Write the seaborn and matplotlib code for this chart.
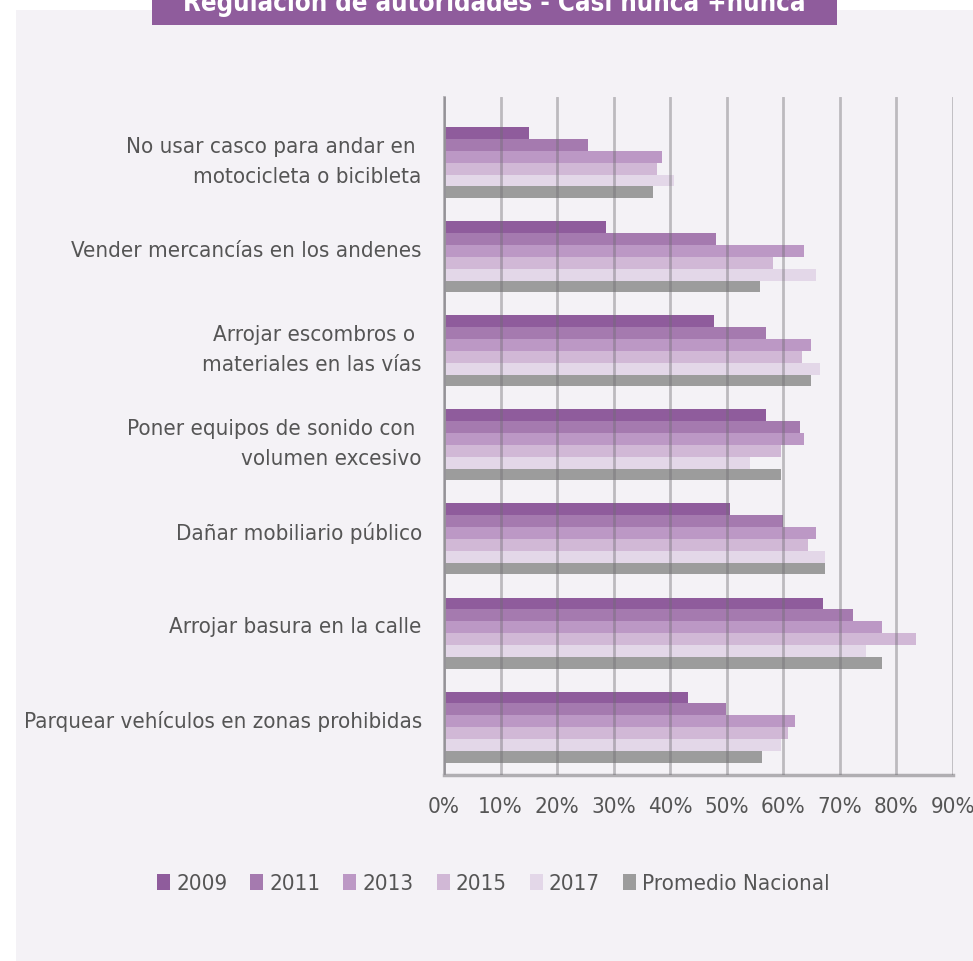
import pandas as pd
import matplotlib
matplotlib.use("Agg")
import matplotlib.pyplot as plt
import matplotlib.transforms as mtransforms
from matplotlib.patches import Rectangle, Patch
from matplotlib import font_manager
import seaborn as sns

# data (% "casi nunca + nunca")
categorias = [
    "No usar casco para andar en \nmotocicleta o bicibleta",
    "Vender mercancías en los andenes",
    "Arrojar escombros o \nmateriales en las vías",
    "Poner equipos de sonido con \nvolumen excesivo",
    "Dañar mobiliario público",
    "Arrojar basura en la calle",
    "Parquear vehículos en zonas prohibidas",
]
series = ["2009", "2011", "2013", "2015", "2017", "Promedio Nacional"]
v2009 = [15.1, 28.6, 47.8, 56.9, 50.6, 67.0, 43.2]
v2011 = [25.5, 48.1, 56.9, 62.9, 59.9, 72.4, 49.9]
v2013 = [38.6, 63.6, 64.9, 63.6, 65.7, 77.5, 62.0]
v2015 = [37.6, 58.1, 63.3, 59.5, 64.4, 83.5, 60.8]
v2017 = [40.7, 65.7, 66.5, 54.1, 67.3, 74.6, 59.5]
promedio = [36.9, 55.8, 64.9, 59.5, 67.3, 77.5, 56.3]
x_ticks = [0, 10, 20, 30, 40, 50, 60, 70, 80, 90]

colores = ["#8f5c9c", "#a57aaf", "#bc98c5", "#d1b8d6", "#e3d7e8", "#9c9c9c"]

rows = []
for serie, vals in zip(series, [v2009, v2011, v2013, v2015, v2017, promedio]):
    for cat, v in zip(categorias, vals):
        rows.append({"Categoria": cat, "Serie": serie, "Valor": v})
df = pd.DataFrame(rows)

# pick a narrow font if there is one
nombres = {f.name for f in font_manager.fontManager.ttflist}
fuente = "Liberation Sans Narrow" if "Liberation Sans Narrow" in nombres else "DejaVu Sans"
estirar = "normal" if fuente == "Liberation Sans Narrow" else "condensed"

sns.set_style("white")
plt.rcParams["font.family"] = [fuente, "DejaVu Sans"]
plt.rcParams["font.stretch"] = estirar

texto = "#555555"
fondo = "#f4f2f6"
W, H = 973, 961
fs = 16

fig = plt.figure(figsize=(9.73, 9.61), dpi=100, facecolor="white")
fig.patches.append(Rectangle((16 / W, 0), 1 - 16 / W, 1 - 10 / H, transform=fig.transFigure,
                             facecolor=fondo, edgecolor="none", zorder=-2))
fig.patches.append(Rectangle((152 / W, 1 - 25 / H), (837 - 152) / W, 25 / H,
                             transform=fig.transFigure, facecolor="#8f5c9c",
                             edgecolor="none", zorder=-1))
fig.text(494 / W, 1 - 11 / H, "Regulación de autoridades - Casi nunca +nunca",
         ha="center", va="baseline", color="white", fontsize=18.5, fontweight="bold")

ax = fig.add_axes([444 / W, 1 - 775 / H, (953 - 444) / W, (775 - 97) / H])
ax.set_facecolor(fondo)

sns.barplot(data=df, y="Categoria", x="Valor", hue="Serie", hue_order=series,
            palette=colores, orient="h", width=0.755, saturation=1,
            errorbar=None, linewidth=0, ax=ax, legend=False)

ax.set_xlim(0, 90)
ax.set_ylim(6.51, -0.70)
ax.set_xticks(x_ticks)
ax.set_xticklabels([f"{t}%" for t in x_ticks])
ax.set_xlabel("")
ax.set_ylabel("")
ax.tick_params(axis="both", length=0, labelsize=fs, colors=texto)
ax.tick_params(axis="x", pad=16)
ax.tick_params(axis="y", pad=16)
# labels sit a little above the middle of each group
subir = mtransforms.ScaledTranslation(0, 0.08, fig.dpi_scale_trans)
for lab in ax.get_yticklabels():
    lab.set_linespacing(1.65)
    lab.set_transform(lab.get_transform() + subir)

# gridlines sit over the bars, as in the reference
ax.set_axisbelow(False)
ax.grid(axis="x", color="#6f6d72", alpha=0.42, linewidth=2)
ax.grid(axis="y", visible=False)
for s in ["top", "right"]:
    ax.spines[s].set_visible(False)
ax.spines["left"].set_color("#b0aeb2")
ax.spines["left"].set_linewidth(2)
ax.spines["bottom"].set_color("#b0aeb2")
ax.spines["bottom"].set_linewidth(2.5)

handles = [Patch(facecolor=c, edgecolor="none", label=s) for c, s in zip(colores, series)]
fig.legend(handles=handles, loc="center left", bbox_to_anchor=(157 / W, 1 - 884 / H),
           ncol=6, frameon=False, fontsize=fs, labelcolor=texto, borderpad=0,
           borderaxespad=0, handlelength=0.585, handleheight=0.72,
           handletextpad=0.27, columnspacing=1.04)

fig.savefig("out.png", dpi=100, facecolor="white")
plt.close()
